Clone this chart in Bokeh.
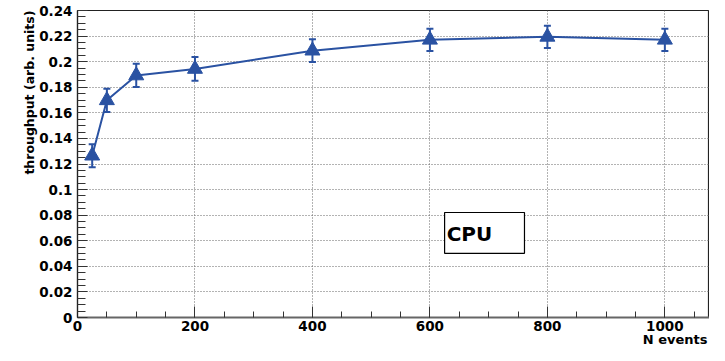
import math
from bokeh.plotting import figure
from bokeh.models import (ColumnDataSource, Whisker, TeeHead, Label, BoxAnnotation,
                          SingleIntervalTicker, CustomJSTickFormatter, Range1d, Title)
from bokeh.embed import file_html
from bokeh.resources import INLINE

# ---- data ----
n_events = [25, 50, 100, 200, 400, 600, 800, 1000]
throughput = [0.1265, 0.1698, 0.1892, 0.1943, 0.2086, 0.2171, 0.2194, 0.2171]
errors = [0.0090, 0.0091, 0.0091, 0.0093, 0.0089, 0.0087, 0.0087, 0.0087]
x_title = "N events"
y_title = "throughput (arb. units)"
box_text = "CPU"

BLUE = "#2a52a2"
FONT = "DejaVu Sans"

src = ColumnDataSource(dict(
    x=n_events, y=throughput,
    upper=[v + e for v, e in zip(throughput, errors)],
    lower=[v - e for v, e in zip(throughput, errors)],
))

p = figure(width=709, height=345, output_backend="svg", toolbar_location=None,
           x_range=Range1d(0, 1076), y_range=Range1d(0, 0.24),
           min_border_left=77, min_border_right=0, min_border_top=10,
           min_border_bottom=28)
p.background_fill_color = "white"
p.border_fill_color = "white"
p.outline_line_color = "#222222"
p.outline_line_width = 1.2

# axes
p.xaxis.ticker = SingleIntervalTicker(interval=200, num_minor_ticks=4)
p.yaxis.ticker = SingleIntervalTicker(interval=0.02, num_minor_ticks=4)
fmt = CustomJSTickFormatter(code="return String(parseFloat(tick.toFixed(3)));")
p.xaxis.formatter = fmt
p.yaxis.formatter = fmt
for ax in (p.xaxis[0], p.yaxis[0]):
    ax.major_tick_out = 0
    ax.minor_tick_out = 0
    ax.major_label_text_font = FONT
    ax.major_label_text_font_style = "bold"
    ax.major_label_text_font_size = "13.5px"
    ax.major_label_text_color = "black"
    ax.major_tick_line_color = "#333333"
    ax.minor_tick_line_color = "#333333"
p.yaxis.major_tick_in = 10
p.yaxis.minor_tick_in = 8
p.yaxis.major_label_standoff = 5
p.yaxis.axis_line_color = "#222222"
p.yaxis.axis_line_width = 1.2
p.xaxis.major_tick_in = 11
p.xaxis.minor_tick_in = 6
p.xaxis.major_label_standoff = 3
p.xaxis.axis_line_color = "#666666"
p.xaxis.axis_line_width = 2

# grid
for g in (p.xgrid[0], p.ygrid[0]):
    g.grid_line_color = "#666666"
    g.grid_line_dash = "1 2"
    g.grid_line_width = 1

# data
p.add_layout(Whisker(source=src, base="x", upper="upper", lower="lower",
                     line_color=BLUE, line_width=2,
                     upper_head=TeeHead(size=7, line_color=BLUE, line_width=2),
                     lower_head=TeeHead(size=7, line_color=BLUE, line_width=2)))
p.line("x", "y", source=src, line_color=BLUE, line_width=2)
p.scatter("x", "y", source=src, marker="triangle", size=15,
          fill_color=BLUE, line_color=BLUE)

# CPU box
p.add_layout(BoxAnnotation(left=625, right=761, bottom=0.0502, top=0.0821,
                           fill_color="white", fill_alpha=1.0,
                           line_color="black", line_width=1.2, line_alpha=1.0))
p.add_layout(Label(x=628.5, y=0.0655, text=box_text, text_font=FONT,
                   text_font_style="bold", text_font_size="20px",
                   text_baseline="middle", text_align="left", text_color="black"))

# axis titles
p.add_layout(Title(text=y_title, align="right", text_font=FONT,
                   text_font_style="bold", text_font_size="12.5px",
                   text_color="black", standoff=0), "left")
p.add_layout(Title(text=x_title, align="right", vertical_align="bottom", text_font=FONT,
                   text_font_style="bold", text_font_size="13px",
                   text_color="black", standoff=-8, offset=2), "below")

open("out.html", "w").write(file_html(p, INLINE))
